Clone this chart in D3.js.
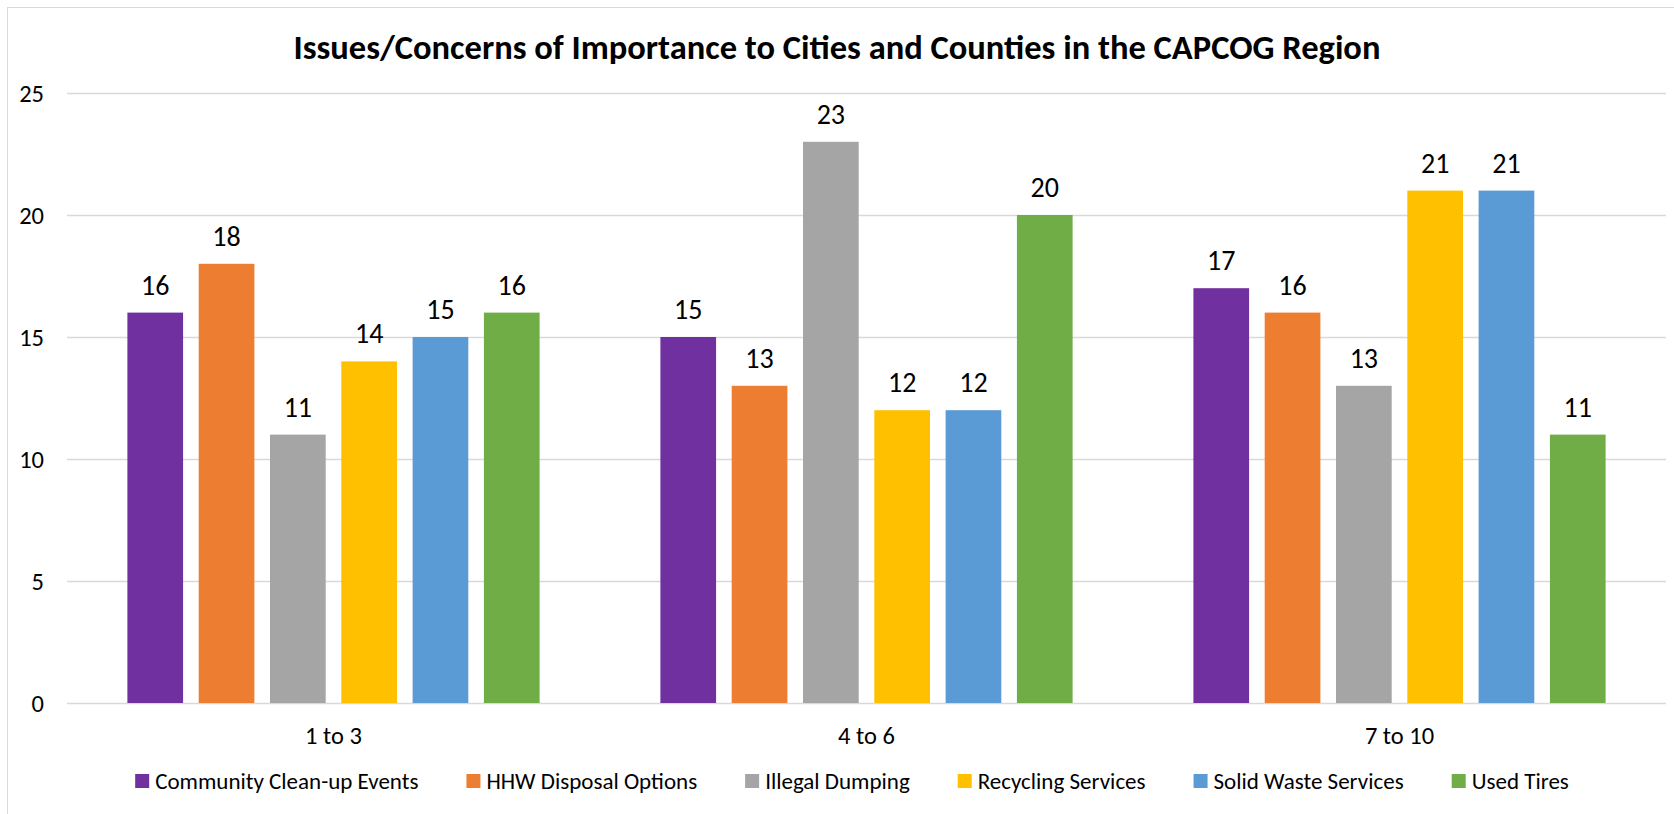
<!DOCTYPE html>
<html>
<head>
<meta charset="utf-8">
<script src="https://cdn.jsdelivr.net/npm/d3@7"></script>
<style>
  body { margin: 0; background: #fff; }
  text { font-family: Carlito, Calibri, Lato, sans-serif; fill: #000; }
</style>
</head>
<body>
<svg id="chart" width="1674" height="814"></svg>
<script>
// data
var categories = ['1 to 3', '4 to 6', '7 to 10'];
var seriesNames = ['Community Clean-up Events', 'HHW Disposal Options', 'Illegal Dumping',
  'Recycling Services', 'Solid Waste Services', 'Used Tires'];
var colors = ['#7030A0', '#ED7D31', '#A5A5A5', '#FFC000', '#5B9BD5', '#70AD47'];
var values = [
  [16, 18, 11, 14, 15, 16],   // 1 to 3
  [15, 13, 23, 12, 12, 20],   // 4 to 6
  [17, 16, 13, 21, 21, 11]    // 7 to 10
];
var yTicks = [0, 5, 10, 15, 20, 25];
var title = 'Issues/Concerns of Importance to Cities and Counties in the CAPCOG Region';

var svg = d3.select('#chart');
var W = 1674, H = 814;
var plot = { left: 67, right: 1666, top: 93, bottom: 703 };

// chart frame
svg.append('rect')
  .attr('x', 7.5).attr('y', 7.5)
  .attr('width', W).attr('height', H)
  .attr('fill', 'none').attr('stroke', '#d9d9d9');

svg.append('text')
  .attr('x', 837).attr('y', 59)
  .attr('text-anchor', 'middle')
  .style('font-size', '34.5px').style('font-weight', 'bold')
  .text(title);

var y = d3.scaleLinear().domain([0, 25]).range([plot.bottom, plot.top]);
var x0 = d3.scaleBand().domain(categories).range([plot.left, plot.right]);
var x1 = d3.scaleBand().domain(seriesNames).range([0, x0.bandwidth()])
  .paddingInner(0.219).paddingOuter(0.847);

// gridlines + y labels
var grid = svg.append('g');
grid.selectAll('line').data(yTicks).enter().append('line')
  .attr('x1', plot.left).attr('x2', plot.right)
  .attr('y1', function(d) { return Math.round(y(d)) + 0.5; })
  .attr('y2', function(d) { return Math.round(y(d)) + 0.5; })
  .attr('stroke', '#d9d9d9').attr('stroke-width', 1.3);
grid.selectAll('text').data(yTicks).enter().append('text')
  .attr('x', 44).attr('y', function(d) { return y(d); })
  .attr('dy', '0.35em').attr('text-anchor', 'end')
  .style('font-size', '24.5px')
  .text(function(d) { return d; });

// bars
var groups = svg.selectAll('g.cat').data(categories).enter().append('g')
  .attr('class', 'cat')
  .attr('transform', function(d) { return 'translate(' + x0(d) + ',0)'; });

groups.selectAll('rect').data(function(d, i) {
  return values[i].map(function(v, j) { return { s: seriesNames[j], v: v, c: colors[j] }; });
}).enter().append('rect')
  .attr('x', function(d) { return x1(d.s); })
  .attr('y', function(d) { return y(d.v); })
  .attr('width', x1.bandwidth())
  .attr('height', function(d) { return y(0) - y(d.v); })
  .attr('fill', function(d) { return d.c; });

groups.selectAll('text.lbl').data(function(d, i) {
  return values[i].map(function(v, j) { return { s: seriesNames[j], v: v }; });
}).enter().append('text')
  .attr('class', 'lbl')
  .attr('x', function(d) { return x1(d.s) + x1.bandwidth() / 2; })
  .attr('y', function(d) { return y(d.v) - 18; })
  .attr('text-anchor', 'middle')
  .style('font-size', '28px')
  .text(function(d) { return d.v; });

// category labels
svg.selectAll('text.cat').data(categories).enter().append('text')
  .attr('class', 'cat')
  .attr('x', function(d) { return x0(d) + x0.bandwidth() / 2; })
  .attr('y', 735).attr('dy', '0.35em')
  .attr('text-anchor', 'middle')
  .style('font-size', '24.5px')
  .text(function(d) { return d; });

// legend
var legend = svg.append('g');
var items = legend.selectAll('g').data(seriesNames).enter().append('g');
items.append('rect')
  .attr('width', 14).attr('height', 14)
  .attr('y', -7)
  .attr('fill', function(d, i) { return colors[i]; });
items.append('text')
  .attr('x', 20).attr('dy', '0.35em')
  .style('font-size', '23px')
  .text(function(d) { return d; });

var gap = 48;
var pos = 0;
items.each(function() {
  var w = this.querySelector('text').getComputedTextLength();
  d3.select(this).attr('transform', 'translate(' + pos + ',0)');
  pos += 20 + w + gap;
});
var total = pos - gap;
legend.attr('transform', 'translate(' + (852 - total / 2) + ',781)');
</script>
</body>
</html>
